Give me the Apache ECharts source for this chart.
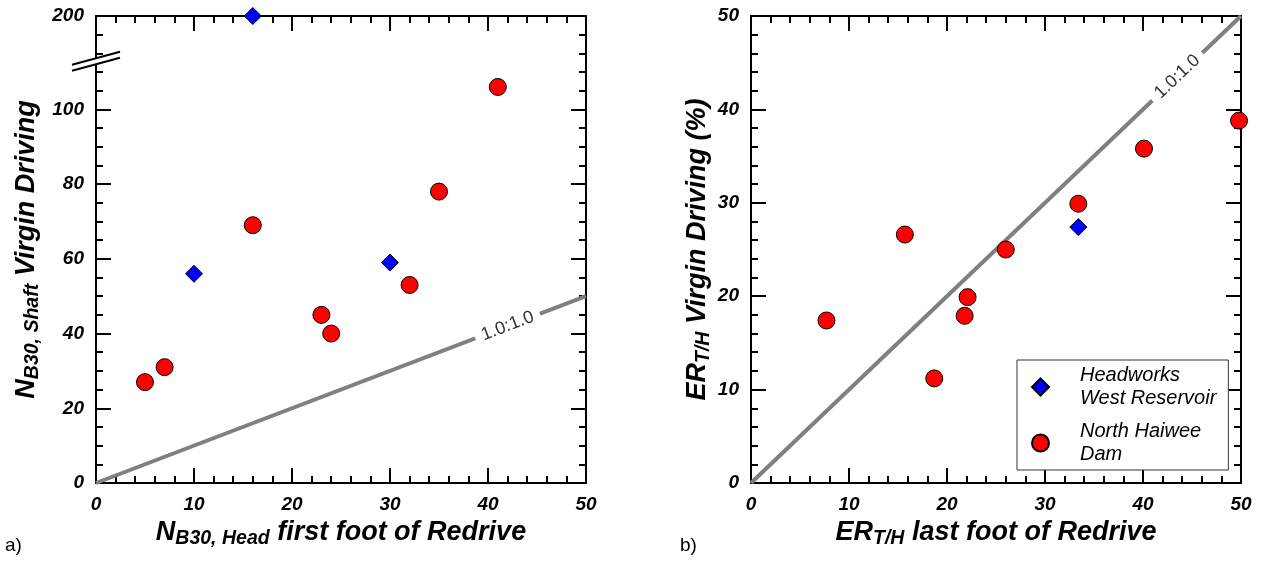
<!DOCTYPE html>
<html><head><meta charset="utf-8">
<script src="https://cdn.jsdelivr.net/npm/echarts@6/dist/echarts.min.js"></script>
<style>html,body{margin:0;padding:0;background:#fff}#c{width:1263px;height:561px}</style>
</head><body><div id="c"></div>
<script>
const FONT = "'Liberation Sans', Arial, Helvetica, sans-serif";

// ---- Panel a) ----
const A_NORTH_X = [5, 7, 16, 23, 24, 32, 35, 41];
const A_NORTH_Y = [27, 31, 69, 45, 40, 53, 78, 106];
const A_HEAD_X = [10, 16, 30];
const A_HEAD_Y = [56, 200, 59];
const A_Y_BREAK = [112.5, 187.5];
const A_Y_MAX = 200;
const A_Y_TICKS = [0, 20, 40, 60, 80, 100, 200];
const A_Y_MINOR = [5, 10, 15, 25, 30, 35, 45, 50, 55, 65, 70, 75, 85, 90, 95, 105, 110, 190, 195];
const A_LABEL_AT = 42;

// ---- Panel b) ----
const B_NORTH_X = [7.7, 15.7, 18.7, 21.8, 22.1, 26.0, 33.4, 40.1, 49.8];
const B_NORTH_Y = [17.4, 26.6, 11.2, 17.9, 19.9, 25.0, 29.9, 35.8, 38.8];
const B_HEAD_X = [33.4];
const B_HEAD_Y = [27.4];
const B_LABEL_AT = 43.5;

// ---- shared ----
const ONE_TO_ONE = [0, 50];
const LINE_LABEL = '1.0:1.0';
const SERIES_NAMES = ['Headworks\nWest Reservoir', 'North Haiwee\nDam'];
const PANEL_LABELS = ['a)', 'b)'];

function zip(xs, ys) { return xs.map((x, i) => [x, ys[i]]); }

const richTitle = {
  m: {fontFamily: FONT, fontSize: 27, fontWeight: 'bold', fontStyle: 'italic', color: '#000'},
  s: {fontFamily: FONT, fontSize: 19.5, fontWeight: 'bold', fontStyle: 'italic', color: '#000', padding: [12, 0, 0, 0]}
};
const LINE = {color: '#000', width: 2};
const LABEL = {color: '#000', fontFamily: FONT, fontSize: 19, fontWeight: 'bold', fontStyle: 'italic', margin: 12};

function axis(o) {
  const showLabel = o.label !== false;
  const a = {
    type: 'value', gridIndex: o.grid, position: o.position,
    min: o.min != null ? o.min : 0, max: o.max != null ? o.max : 50, interval: o.interval || 10,
    axisLine: {show: o.line !== false, onZero: false, lineStyle: LINE},
    axisTick: {show: true, inside: true, length: o.tickLen || 15, lineStyle: LINE},
    minorTick: {show: o.minor !== 0, splitNumber: o.minor || 5, length: 7, lineStyle: LINE},
    splitLine: {show: false}, minorSplitLine: {show: false},
    axisLabel: Object.assign({show: showLabel}, LABEL),
    silent: true
  };
  if (o.tickValues) a.axisTick.customValues = o.tickValues;
  if (o.labelValues) a.axisLabel.customValues = o.labelValues;
  if (o.breaks) { a.breaks = o.breaks; a.breakArea = {show: false}; }
  if (o.name) {
    a.name = o.name; a.nameLocation = 'middle'; a.nameGap = o.nameGap;
    a.nameRotate = o.nameRotate; a.nameTextStyle = {rich: richTitle};
  }
  return a;
}

const aBreaks = [{start: A_Y_BREAK[0], end: A_Y_BREAK[1], gap: 0}];

const circleStyle = {color: '#ff0000', borderColor: '#000', borderWidth: 1, opacity: 1};
const diamondStyle = {color: '#0000ff', borderColor: '#000', borderWidth: 1, opacity: 1};

function labelSeries(id, xi, yi, at) {
  return {
    id: id, type: 'scatter', xAxisIndex: xi, yAxisIndex: yi, data: [[at, at]],
    symbolSize: 0, silent: true, z: 5, itemStyle: {opacity: 1},
    label: {show: true, position: 'inside', formatter: LINE_LABEL, rotate: 0,
      color: '#333', fontFamily: FONT, fontSize: 18, backgroundColor: '#fff', padding: [2, 7]}
  };
}

const option = {
  backgroundColor: '#fff',
  animation: false,
  grid: [
    {left: 96, top: 16, width: 490, height: 467},
    {left: 751, top: 16, width: 490, height: 467}
  ],
  xAxis: [
    axis({grid: 0, position: 'bottom', name: '{m|N}{s|B30, Head}{m| first foot of Redrive}', nameGap: 26}),
    axis({grid: 0, position: 'top', label: false}),
    axis({grid: 1, position: 'bottom', name: '{m|ER}{s|T/H}{m| last foot of Redrive}', nameGap: 26}),
    axis({grid: 1, position: 'top', label: false})
  ],
  yAxis: [
    axis({grid: 0, position: 'left', max: A_Y_MAX, interval: 20, minor: 0, breaks: aBreaks,
      tickValues: A_Y_TICKS, labelValues: A_Y_TICKS,
      name: '{m|N}{s|B30, Shaft}{m| Virgin Driving}', nameGap: 53, nameRotate: 90}),
    axis({grid: 0, position: 'left', max: A_Y_MAX, interval: 20, minor: 0, breaks: aBreaks, label: false,
      line: false, tickLen: 7, tickValues: A_Y_MINOR}),
    axis({grid: 0, position: 'right', max: A_Y_MAX, interval: 20, minor: 0, breaks: aBreaks, label: false,
      tickValues: A_Y_TICKS}),
    axis({grid: 0, position: 'right', max: A_Y_MAX, interval: 20, minor: 0, breaks: aBreaks, label: false,
      line: false, tickLen: 7, tickValues: A_Y_MINOR}),
    axis({grid: 1, position: 'left', name: '{m|ER}{s|T/H}{m| Virgin Driving (%)}', nameGap: 35, nameRotate: 90}),
    axis({grid: 1, position: 'right', label: false})
  ],
  legend: {
    data: SERIES_NAMES, orient: 'vertical', left: 1017, top: 360,
    backgroundColor: '#fff', borderColor: '#333', borderWidth: 1, borderRadius: 0,
    padding: [4, 12, 4, 14], itemGap: 10, itemWidth: 17, itemHeight: 17,
    selectedMode: false,
    textStyle: {fontFamily: FONT, fontSize: 20, fontStyle: 'italic', color: '#000', lineHeight: 23, padding: [0, 0, 0, 26]}
  },
  series: [
    {type: 'line', xAxisIndex: 0, yAxisIndex: 0, data: zip(ONE_TO_ONE, ONE_TO_ONE), showSymbol: false, silent: true,
      lineStyle: {color: '#808080', width: 4}, z: 1},
    {type: 'line', xAxisIndex: 2, yAxisIndex: 4, data: zip(ONE_TO_ONE, ONE_TO_ONE), showSymbol: false, silent: true,
      lineStyle: {color: '#808080', width: 4}, z: 1},
    labelSeries('labA', 0, 0, A_LABEL_AT),
    labelSeries('labB', 2, 4, B_LABEL_AT),
    {name: SERIES_NAMES[1], type: 'scatter', xAxisIndex: 0, yAxisIndex: 0, data: zip(A_NORTH_X, A_NORTH_Y),
      symbol: 'circle', symbolSize: 17, itemStyle: circleStyle, z: 10, clip: false},
    {name: SERIES_NAMES[0], type: 'scatter', xAxisIndex: 0, yAxisIndex: 0, data: zip(A_HEAD_X, A_HEAD_Y),
      symbol: 'diamond', symbolSize: 17, itemStyle: diamondStyle, z: 10, clip: false},
    {name: SERIES_NAMES[1], type: 'scatter', xAxisIndex: 2, yAxisIndex: 4, data: zip(B_NORTH_X, B_NORTH_Y),
      symbol: 'circle', symbolSize: 17, itemStyle: circleStyle, z: 10, clip: false},
    {name: SERIES_NAMES[0], type: 'scatter', xAxisIndex: 2, yAxisIndex: 4, data: zip(B_HEAD_X, B_HEAD_Y),
      symbol: 'diamond', symbolSize: 17, itemStyle: diamondStyle, z: 10, clip: false}
  ]
};

const chart = echarts.init(document.getElementById('c'), null, {renderer: 'canvas'});
chart.setOption(option);

function angleFor(xi, yi) {
  const p0 = chart.convertToPixel({xAxisIndex: xi, yAxisIndex: yi}, [ONE_TO_ONE[0], ONE_TO_ONE[0]]);
  const p1 = chart.convertToPixel({xAxisIndex: xi, yAxisIndex: yi}, [ONE_TO_ONE[1], ONE_TO_ONE[1]]);
  return Math.atan2(p0[1] - p1[1], p1[0] - p0[0]) * 180 / Math.PI;
}
const angA = angleFor(0, 0), angB = angleFor(2, 4);
const by = chart.convertToPixel({yAxisIndex: 0}, A_Y_BREAK[0]);
const bx = chart.convertToPixel({xAxisIndex: 0}, 0);
chart.setOption({
  series: [{id: 'labA', label: {rotate: angA}}, {id: 'labB', label: {rotate: angB}}],
  graphic: [
    {id: 'pa', type: 'text', left: 5, top: 536, style: {text: PANEL_LABELS[0], fontFamily: FONT, fontSize: 19, fill: '#000'}},
    {id: 'pb', type: 'text', left: 680, top: 536, style: {text: PANEL_LABELS[1], fontFamily: FONT, fontSize: 19, fill: '#000'}},
    {id: 'brkFill', type: 'polygon', z: 100, shape: {points: [[bx - 24, by + 8], [bx + 24, by - 5], [bx + 24, by - 11], [bx - 24, by + 2]]},
      style: {fill: '#fff'}},
    {id: 'brk1', type: 'line', z: 101, shape: {x1: bx - 24, y1: by + 8, x2: bx + 24, y2: by - 5}, style: {stroke: '#000', lineWidth: 2}},
    {id: 'brk2', type: 'line', z: 101, shape: {x1: bx - 24, y1: by + 2, x2: bx + 24, y2: by - 11}, style: {stroke: '#000', lineWidth: 2}}
  ]
});
</script>
</body></html>
